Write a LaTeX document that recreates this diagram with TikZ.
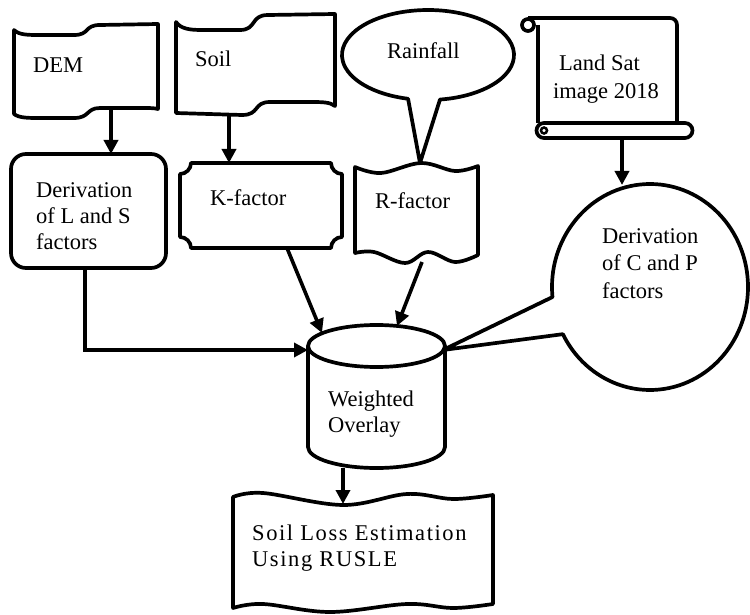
\documentclass[tikz,border=0pt]{standalone}
\usepackage{fontspec}
\setmainfont{Liberation Serif}
\usetikzlibrary{arrows.meta,calc}
\begin{document}
\begin{tikzpicture}[x=1pt,y=-1pt,
  shp/.style={line width=3.7pt, line join=round},
  arr/.style={line width=3.6pt, -{Triangle[length=14pt,width=14pt]}},
  txt/.style={inner sep=0pt, anchor=north west, align=left, font=\fontsize{22.5pt}{26pt}\selectfont}]
\useasboundingbox (0,0) rectangle (750,615);

% DEM (punched tape)
\draw[shp] (14,30) .. controls (19,35) and (28,35) .. (40,35) -- (74,35)
  .. controls (90,35) and (84,25) .. (100,25) -- (158,24) -- (158,109)
  .. controls (154,108) and (150,108) .. (140,108) -- (100,108)
  .. controls (86,108) and (90,118) .. (74,118) -- (40,118)
  .. controls (28,118) and (19,118) .. (14,114) -- cycle;
% Soil (punched tape)
\draw[shp] (176,22) .. controls (181,29) and (190,30) .. (202,30) -- (240,30)
  .. controls (257,30) and (250,15) .. (268,15) -- (335,14) -- (335,106)
  .. controls (330,102) and (322,102) .. (310,102) -- (270,102)
  .. controls (253,102) and (260,115) .. (242,115) -- (176,113) -- cycle;
% Rainfall callout
\coordinate (rain-tip) at (420,163);
\draw[shp] (rain-tip) -- ($(428,55)+(82:86 and 45)$)
  arc[start angle=82, end angle=-256.6, x radius=86, y radius=45] -- cycle;
% Land Sat scroll
\draw[shp] (528,18) -- (670,18) .. controls (674,18) and (677,21) .. (677,25) -- (677,123);
\draw[shp] (538,25) -- (538,123);
\draw[shp] (528,25) circle (6);
\draw[shp] (544,123) -- (685,123) arc[start angle=-90, end angle=90, radius=7.5]
  -- (544,138) arc[start angle=90, end angle=270, radius=7.5] -- cycle;
\draw[line width=2.5pt] (544,130.5) circle (3);
% Derivation of L and S
\draw[shp, rounded corners=15pt] (11,154) rectangle (166,268);
% K-factor plaque
\draw[shp] (191,163) -- (331,163) .. controls (331,169) and (336,174) .. (342,174)
  -- (342,237) .. controls (336,237) and (331,242) .. (331,248)
  -- (191,248) .. controls (191,242) and (186,237) .. (180,237)
  -- (180,174) .. controls (186,174) and (191,169) .. (191,163) -- cycle;
% R-factor double wave
\draw[shp] plot[smooth, tension=0.6] coordinates {(355,167) (381,173) (421,163) (455,171) (478,166)}
  -- plot[smooth, tension=0.6] coordinates {(478,255) (455,262) (428,252) (405,263) (374,252) (355,253)} -- cycle;
% Derivation of C and P callout
\coordinate (cp-tip) at (443,350);
\draw[shp] (cp-tip) -- ($(650,287)+(174.4:98 and 103)$)
  arc[start angle=174.4, end angle=512.75, x radius=98, y radius=103] -- cycle;
% Weighted overlay cylinder
\draw[shp] (308,346) -- (308,447) arc[start angle=180, end angle=0, x radius=68.5, y radius=21] -- (445,346);
\draw[shp] (376.5,346) ellipse [x radius=68.5, y radius=21];
% Soil loss double wave
\draw[shp] plot[smooth, tension=0.6] coordinates {(233,497) (263,493) (343,505) (407,494) (453,499) (493,495)}
  -- plot[smooth, tension=0.6] coordinates {(493,604) (453,608) (407,604) (330,612) (263,604) (233,608)} -- cycle;

% texts
\node[txt] (dem) at (33,58) {DEM};
\node[txt] (soil) at (195,51) {Soil};
\node[txt] (rain) at (387,42) {Rainfall};
\node[txt] (land) at (553,55) {\hspace*{6pt}Land Sat\\[2pt]image 2018};
\node[txt] (ls) at (36,182) {Derivation\\of L and S\\factors};
\node[txt] (kf) at (210,189) {K-factor};
\node[txt] (rf) at (375,192) {R-factor};
\node[txt, font=\fontsize{22.5pt}{27.5pt}\selectfont] (cp) at (602,228) {Derivation\\of C and P\\factors};
\node[txt] (wo) at (328,391) {Weighted\\Overlay};
\node[txt, font=\fontsize{22.5pt}{26pt}\selectfont\addfontfeature{LetterSpace=7}] (sl) at (252,525) {Soil Loss Estimation\\Using RUSLE};

% connectors
\coordinate (dem-out) at (111,108);
\coordinate (ls-in) at (111,154);
\coordinate (soil-out) at (229,114);
\coordinate (kf-in) at (229,163);
\coordinate (ls-out) at (85,268);
\coordinate (wo-left) at (308,350);
\coordinate (kf-out) at (287,248);
\coordinate (wo-topl) at (322,333);
\coordinate (rf-out) at (422,262);
\coordinate (wo-top) at (397,326);
\coordinate (land-out) at (622,138);
\coordinate (cp-in) at (622,185);
\coordinate (wo-bot) at (343,468);
\coordinate (sl-in) at (343,504);
\draw[arr] (dem-out) -- (ls-in);
\draw[arr] (soil-out) -- (kf-in);
\draw[arr] (ls-out) |- (wo-left);
\draw[arr] (kf-out) -- (wo-topl);
\draw[arr] (rf-out) -- (wo-top);
\draw[arr] (land-out) -- (cp-in);
\draw[arr] (wo-bot) -- (sl-in);
\end{tikzpicture}
\end{document}
